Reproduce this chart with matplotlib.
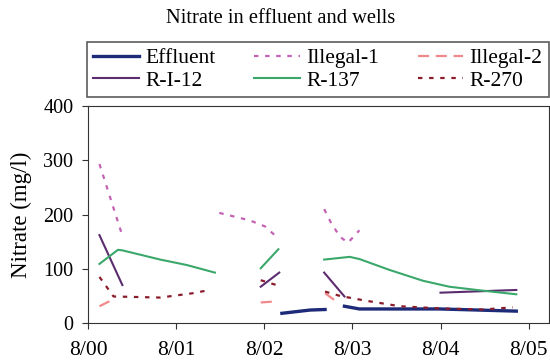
import numpy as np
import matplotlib
matplotlib.use("Agg")
import matplotlib.pyplot as plt

plt.rcParams['font.family'] = ['Liberation Serif', 'DejaVu Serif']

# x values: years after August 2000; nan splits the line into pieces
nan = np.nan
tick_pos = [0, 1, 2, 3, 4, 5]
tick_labels = ["8/00", "8/01", "8/02", "8/03", "8/04", "8/05"]

eff_x = [2.20, 2.52, 2.69, nan, 2.91, 3.08, 3.99, 4.86]
eff_y = [18, 24, 25, nan, 31, 26, 26, 22]

ill1_x = [0.13, 0.38, nan, 1.49, 1.84, 2.01, 2.16, nan, 2.68, 2.76, 2.86, 2.95, 3.08]
ill1_y = [293, 166, nan, 203, 189, 178, 156, nan, 210, 184, 159, 148, 171]

ill2_x = [0.13, 0.29, nan, 1.96, 2.14, nan, 2.69, 2.85]
ill2_y = [31, 44, nan, 38, 40, nan, 55, 36]

ri12_x = [0.13, 0.39, nan, 1.96, 2.17, nan, 2.68, 2.91, nan, 4.00, 4.86]
ri12_y = [162, 70, nan, 67, 93, nan, 93, 49, nan, 56, 61]

r137_x = [0.13, 0.34, 0.39, 0.82, 1.12, 1.44, nan, 1.96, 2.16, nan,
          2.68, 2.97, 3.08, 3.42, 3.80, 4.10, 4.41, 4.86]
r137_y = [109, 135, 134, 117, 107, 93, nan, 101, 136, nan,
          117, 122, 118, 98, 78, 67, 61, 53]

r270_x = [0.13, 0.29, 0.82, 1.19, 1.38, nan, 1.96, 2.16, nan,
          2.69, 2.86, 3.16, 3.54, 3.99, 4.48, 4.82]
r270_y = [85, 49, 47, 55, 61, nan, 79, 69, nan,
          58, 50, 41, 31, 27, 25, 29]

fig = plt.figure(figsize=(5.5, 3.63), dpi=100)
ax = fig.add_axes([0.16, 0.11, 0.838, 0.598])

h_eff, = ax.plot(eff_x, eff_y, color="#1c2a78", lw=2.4, label="Effluent")
h_ri12, = ax.plot(ri12_x, ri12_y, color="#5b2d6e", lw=1.5, label="R-I-12")
h_ill1, = ax.plot(ill1_x, ill1_y, color="#c462b5", lw=1.6, dashes=(2, 3), label="Illegal-1")
h_r137, = ax.plot(r137_x, r137_y, color="#3aa86b", lw=1.5, label="R-137")
h_ill2, = ax.plot(ill2_x, ill2_y, color="#f08a8a", lw=1.6, dashes=(5, 3), label="Illegal-2")
h_r270, = ax.plot(r270_x, r270_y, color="#8b1c2c", lw=1.6, dashes=(2, 3), label="R-270")

ax.set_xlim(0, 5.23)
ax.set_ylim(0, 400)
ax.set_xticks(tick_pos)
ax.set_xticklabels(tick_labels)
ax.set_yticks([0, 100, 200, 300, 400])
ax.tick_params(direction="out", length=4.5, color="#333333")
ax.tick_params(axis="x", labelsize=15.5, pad=8.5)
ax.tick_params(axis="y", labelsize=14.5, pad=6)
for s in ax.spines.values():
    s.set_color("#333333")
ax.set_ylabel("Nitrate (mg/l)", fontsize=16.5, labelpad=8)

fig.text(0.51, 0.95, "Nitrate in effluent and wells", ha="center", va="center", fontsize=14.8)

# legend sits above the plot, stretched to the axes width
leg = fig.legend(handles=[h_eff, h_ri12, h_ill1, h_r137, h_ill2, h_r270],
                 ncol=3, loc="lower left", mode="expand", borderaxespad=0,
                 bbox_to_anchor=(0.158, 1 - 97 / 363, 0.84, 54 / 363),
                 fontsize=15.5, frameon=True, fancybox=False,
                 handlelength=2.1, handletextpad=0.3, labelspacing=0.1,
                 borderpad=0.3, columnspacing=1.0)
leg.get_frame().set_edgecolor("#333333")
leg.get_frame().set_linewidth(1.2)

fig.savefig("out.png", dpi=100)
